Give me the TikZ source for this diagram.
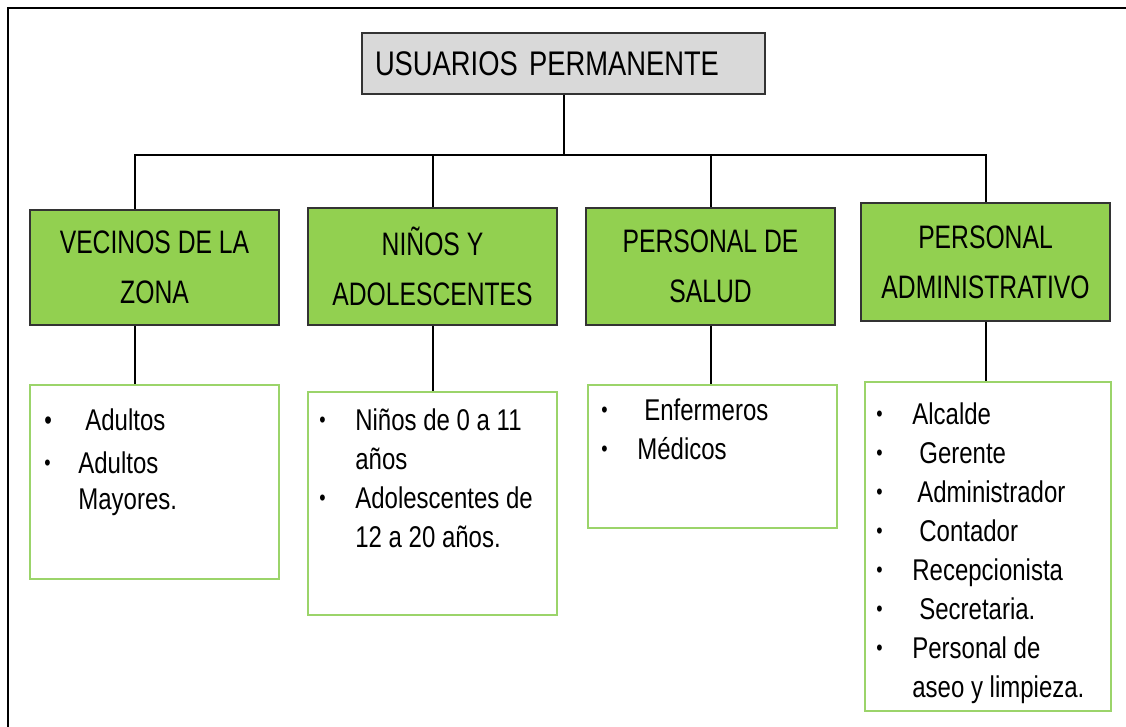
\documentclass[tikz,border=0pt]{standalone}
\usepackage{fontspec}
\usepackage{graphicx}
\setmainfont{Liberation Sans}[FakeStretch=0.8]
\newfontfamily\angosta{Liberation Sans}[FakeStretch=0.76]
\usetikzlibrary{positioning}
\definecolor{verdehoja}{HTML}{92D050}
\definecolor{verdeborde}{HTML}{9BD46A}
\definecolor{grisclaro}{HTML}{D9D9D9}
% bullet item: optional extra gap, then text
\newcommand{\punto}{\raisebox{1.5pt}{\scalebox{0.75}{\textbullet}}}
\newcommand{\vineta}[2][0pt]{\makebox[21.6pt][l]{\punto}\hspace{#1}#2}
\newcommand{\sigue}[1]{\hspace*{21.6pt}#1}
\tikzset{
  linea/.style={draw=black, line width=1.2pt},
  titulo/.style={draw=black!80, line width=1.3pt, fill=grisclaro, minimum width=241.8pt,
    minimum height=36.6pt, text width=226.2pt, inner xsep=7.8pt, align=left,
    font=\fontsize{20.5}{24}\selectfont},
  grupo/.style={draw=black!80, line width=1.3pt, fill=verdehoja, minimum width=149.4pt,
    align=center, font=\angosta\fontsize{19.5}{30}\selectfont},
  lista/.style={draw=verdeborde, line width=1.1pt, minimum width=149.4pt},
  texto/.style={anchor=north west, inner sep=0pt, align=left,
    font=\fontsize{18}{23.4}\selectfont}
}
\begin{document}
\begin{tikzpicture}[x=0.6pt, y=-0.6pt]
  \useasboundingbox (0,0) rectangle (1126,727);
  \clip (0,0) rectangle (1126,727);
  % outer frame, cut at right and bottom
  \draw[line width=1.2pt] (8,8) rectangle (1140,740);

  % root
  \node[titulo] (top) at (563.5,63.5) {USUARIOS PERMANENTE};
  \coordinate (bus) at (565,155);

  % groups
  \node[grupo, minimum height=69pt] (g1) at (154.5,267.5) {VECINOS DE LA\\ZONA};
  \node[grupo, minimum height=70.2pt] (g2) at (432.5,266.5) {NIÑOS Y\\ADOLESCENTES};
  \node[grupo, minimum height=70.2pt] (g3) at (710.5,266.5) {PERSONAL DE\\SALUD};
  \node[grupo, minimum height=70.8pt] (g4) at (985.5,262) {PERSONAL\\ADMINISTRATIVO};

  % lists
  \node[lista, minimum height=116.4pt] (l1) at (154.5,482) {};
  \node[lista, minimum height=133.8pt] (l2) at (432.5,503.5) {};
  \node[lista, minimum height=85.8pt] (l3) at (712.5,456.5) {};
  \node[lista, minimum width=147.6pt, minimum height=197.4pt] (l4) at (988,546.5) {};

  % connectors
  \draw[linea] (top.south) -- (top.south |- bus);
  \draw[linea] ([xshift=-11.7pt]g1.north) |- (g4.north |- bus) -- (g4.north);
  \draw[linea] (g2.north) -- (g2.north |- bus);
  \draw[linea] (g3.north) -- (g3.north |- bus);
  \draw[linea] ([xshift=-11.7pt]g1.south) -- ([xshift=-11.7pt]g1.south |- l1.north);
  \draw[linea] (g2.south) -- (g2.south |- l2.north);
  \draw[linea] (g3.south) -- (g3.south |- l3.north);
  \draw[linea] (g4.south) -- (g4.south |- l4.north);

  % list texts
  \node[texto] (t1) at (44,408) {\makebox[20.4pt][l]{\raisebox{0.6pt}{\scalebox{0.9}{\textbullet}}}\hspace{4.2pt}Adultos\\[2.4pt]
    \makebox[20.4pt][l]{\punto}Adultos\\[-1.8pt]\hspace*{20.4pt}Mayores.};
  \node[texto] (t2) at (319,408) {\vineta{Niños de 0 a 11}\\\sigue{años}\\
    \vineta{Adolescentes de}\\\sigue{12 a 20 años.}};
  \node[texto] (t3) at (601,398) {\vineta[4.2pt]{Enfermeros}\\\vineta{Médicos}};
  \node[texto] (t4) at (876,402) {\vineta{Alcalde}\\\vineta[4.2pt]{Gerente}\\
    \vineta[3pt]{Administrador}\\\vineta[4.2pt]{Contador}\\\vineta{Recepcionista}\\
    \vineta[4.2pt]{Secretaria.}\\\vineta{Personal de}\\\sigue{aseo y limpieza.}};
\end{tikzpicture}
\end{document}
